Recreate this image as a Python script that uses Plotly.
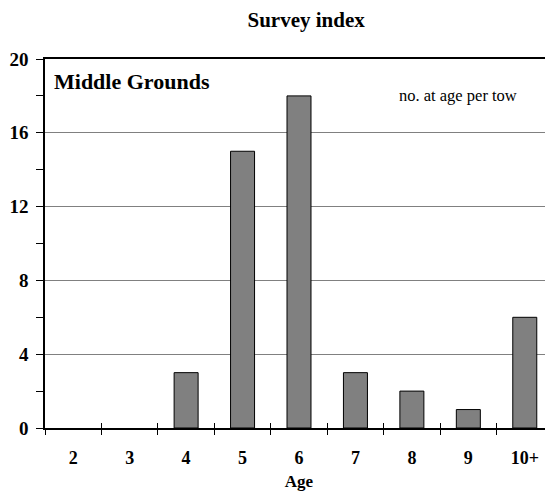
import plotly.graph_objects as go

ages = ["2", "3", "4", "5", "6", "7", "8", "9", "10+"]
index_values = [0, 0, 3, 15, 18, 3, 2, 1, 6]
y_ticks = [0, 4, 8, 12, 16, 20]

serif = "Liberation Serif, Times New Roman, serif"

# the page body has an 8px default margin; size the figure so the plot fills the window
W, H = 545, 485

fig = go.Figure()
fig.add_trace(go.Bar(
    x=ages, y=index_values,
    marker=dict(color="#808080",
                line=dict(color="#000000", width=[0 if v == 0 else 1 for v in index_values])),
))
# invisible copy on an overlaid axis, used only to draw the inside half of the x tick marks
fig.add_trace(go.Bar(x=ages, y=index_values, xaxis="x2", opacity=0, hoverinfo="skip"))

fig.update_layout(
    width=W, height=H,
    margin=dict(l=37, r=0, t=51, b=65),
    paper_bgcolor="white", plot_bgcolor="white",
    bargap=0.575,
    showlegend=False,
    font=dict(family=serif, color="black"),
    title=dict(text="<b>Survey index</b>", x=0.547, xanchor="center", y=0.975, yanchor="middle",
               font=dict(size=21, family=serif)),
    xaxis=dict(
        type="category", tickson="boundaries", ticks="outside", ticklen=5, tickcolor="black",
        tickwidth=1,
        showline=True, linecolor="black", linewidth=1.5, mirror=True, showgrid=False,
        tickfont=dict(size=18, family=serif, weight="bold"), ticklabelstandoff=13,
        title=dict(text="<b>Age</b>", font=dict(size=17, family=serif), standoff=8),
    ),
    xaxis2=dict(
        type="category", overlaying="x", anchor="y", side="bottom", matches="x",
        tickson="boundaries", ticks="inside", ticklen=5, tickcolor="black", tickwidth=1,
        showticklabels=False, showgrid=False, showline=False,
    ),
    yaxis=dict(
        range=[0, 20], tickvals=y_ticks, ticks="outside", ticklen=7, tickcolor="black",
        showline=True, linecolor="black", linewidth=1.5,
        showgrid=True, gridcolor="#808080", gridwidth=1.2, zeroline=False,
        tickfont=dict(size=19, family=serif, weight="bold"), ticklabelstandoff=4,
        minor=dict(dtick=2, ticks="outside", ticklen=7, tickcolor="black", showgrid=False),
    ),
    annotations=[
        dict(text="<b>Middle Grounds</b>", xref="paper", yref="paper", x=0.014, y=0.940,
             xanchor="left", yanchor="middle", showarrow=False, font=dict(size=22, family=serif)),
        dict(text="no. at age per tow", xref="paper", yref="paper", x=0.692, y=0.902,
             xanchor="left", yanchor="middle", showarrow=False, font=dict(size=16.5, family=serif)),
    ],
)

fig.write_html("out.html")
